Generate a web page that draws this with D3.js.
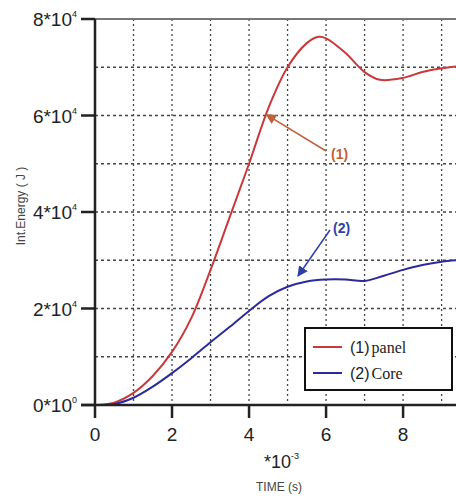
<!DOCTYPE html>
<html><head><meta charset="utf-8">
<script src="https://cdn.jsdelivr.net/npm/d3@7/dist/d3.min.js"></script>
<style>body{margin:0;background:#fff;}svg{display:block;}</style>
</head><body>
<script>
const timeX = [0,0.5,1,1.5,2,2.5,3,3.5,4,4.5,5,5.5,5.8,6,6.5,7,7.4,8,8.5,9,9.4];
const panel = [0,0.05,0.25,0.6,1.1,1.8,2.8,3.9,5.0,6.15,7.0,7.5,7.63,7.6,7.3,6.9,6.74,6.78,6.9,6.98,7.02];
const coreX = [0,0.5,1,1.5,2,2.5,3,3.5,4,4.5,5,5.5,6,6.5,7,7.5,8,8.5,9,9.4];
const core = [0,0.02,0.15,0.38,0.66,0.97,1.3,1.62,1.95,2.25,2.45,2.56,2.6,2.6,2.57,2.68,2.8,2.9,2.97,3.0];
const xMajorTicks = [0,2,4,6,8];
const xGrid = [1,2,3,4,5,6,7,8,9];
const yMajorTicks = [0,2,4,6,8];
const yGrid = [1,2,3,4,5,6,7];
const legendItems = [{num:"(1)", name:"panel", color:"#c8393b"},{num:"(2)", name:"Core", color:"#2a2a9c"}];

const W=456,H=498;
const svg=d3.select("body").append("svg").attr("width",W).attr("height",H);
const x=d3.scaleLinear().domain([0,9.4]).range([95,457]);
const y=d3.scaleLinear().domain([0,8]).range([405,19]);

// grid
const g=svg.append("g");
g.selectAll(".vg").data(xGrid).join("line").attr("x1",d=>x(d)).attr("x2",d=>x(d)).attr("y1",y(8)).attr("y2",y(0))
 .attr("stroke","#444").attr("stroke-width",1.3).attr("stroke-dasharray","2,3");
g.selectAll(".hg").data(yGrid).join("line").attr("x1",x(0)).attr("x2",W).attr("y1",d=>y(d)).attr("y2",d=>y(d))
 .attr("stroke","#444").attr("stroke-width",1.3).attr("stroke-dasharray","3,3");

// top frame
svg.append("line").attr("x1",x(0)).attr("x2",W).attr("y1",y(8)).attr("y2",y(8)).attr("stroke","#777").attr("stroke-width",2);

// curves
const line=d3.line().curve(d3.curveCatmullRom.alpha(0.5));
svg.append("path").attr("d",line(timeX.map((t,i)=>[x(t),y(panel[i])]))).attr("fill","none").attr("stroke","#c8393b").attr("stroke-width",2);
svg.append("path").attr("d",line(coreX.map((t,i)=>[x(t),y(core[i])]))).attr("fill","none").attr("stroke","#2a2a9c").attr("stroke-width",2);

// legend
const lg=svg.append("g");
lg.append("rect").attr("x",305).attr("y",328).attr("width",147).attr("height",62).attr("fill","#fff").attr("stroke","#111").attr("stroke-width",2);
legendItems.forEach((it,i)=>{
  const yy=347+i*26;
  lg.append("line").attr("x1",313).attr("x2",342).attr("y1",yy).attr("y2",yy).attr("stroke",it.color).attr("stroke-width",2);
  const t=lg.append("text").attr("x",350).attr("y",yy+6).attr("font-size",16).attr("fill","#222");
  t.append("tspan").attr("font-family","Liberation Sans, Arial").text(it.num);
  t.append("tspan").attr("font-family","Liberation Serif, Times New Roman, serif").attr("dx",2).text(it.name);
});

// axes
svg.append("line").attr("x1",x(0)).attr("x2",x(0)).attr("y1",y(8)).attr("y2",418).attr("stroke","#222").attr("stroke-width",2.5);
svg.append("line").attr("x1",81).attr("x2",W).attr("y1",y(0)).attr("y2",y(0)).attr("stroke","#222").attr("stroke-width",2.5);
// y major ticks
svg.selectAll(".yt").data(yMajorTicks).join("line").attr("x1",81).attr("x2",x(0)).attr("y1",d=>y(d)).attr("y2",d=>y(d)).attr("stroke","#222").attr("stroke-width",2.5);
// x major ticks
svg.selectAll(".xt").data(xMajorTicks.filter(d=>d>0)).join("line").attr("x1",d=>x(d)).attr("x2",d=>x(d)).attr("y1",y(0)).attr("y2",418).attr("stroke","#222").attr("stroke-width",2.5);

// y labels
const yl=svg.selectAll(".yl").data(yMajorTicks).join("text").attr("x",77).attr("y",d=>y(d)+7).attr("text-anchor","end")
 .attr("font-family","Liberation Sans, Arial").attr("font-size",19).attr("fill","#222");
yl.append("tspan").text(d=>d+"*10");
yl.append("tspan").attr("font-size",9).attr("dy",-9).text(d=>d===0?"0":"4");

// x labels
svg.selectAll(".xl").data(xMajorTicks).join("text").attr("x",d=>x(d)).attr("y",441).attr("text-anchor","middle")
 .attr("font-family","Liberation Sans, Arial").attr("font-size",19).attr("fill","#222").text(d=>d);

// x scale note
const xn=svg.append("text").attr("x",264).attr("y",468).attr("font-family","Liberation Sans, Arial").attr("font-size",18).attr("fill","#222");
xn.append("tspan").text("*10");
xn.append("tspan").attr("font-size",9).attr("dy",-9).text("-3");
svg.append("text").attr("x",279).attr("y",491).attr("text-anchor","middle").attr("font-family","Liberation Sans, Arial").attr("font-size",12).attr("fill","#444").text("TIME (s)");
svg.append("text").attr("transform","translate(25,206) rotate(-90)").attr("text-anchor","middle").attr("font-family","Liberation Sans, Arial").attr("font-size",12).attr("fill","#444").text("Int.Energy ( J )");

// annotations
const defs=svg.append("defs");
[["a1","#c0603a"],["a2","#2f3fa8"]].forEach(([id,c])=>{
  defs.append("marker").attr("id",id).attr("viewBox","0 0 10 10").attr("refX",9).attr("refY",5).attr("markerWidth",7).attr("markerHeight",7).attr("orient","auto")
   .append("path").attr("d","M0,0L10,5L0,10z").attr("fill",c);
});
svg.append("line").attr("x1",326).attr("y1",151).attr("x2",x(4.45)).attr("y2",y(6.02)).attr("stroke","#c0603a").attr("stroke-width",1.5).attr("marker-end","url(#a1)");
svg.append("text").attr("x",331).attr("y",159).attr("font-family","Liberation Sans, Arial").attr("font-weight","bold").attr("font-size",14).attr("fill","#c0603a").text("(1)");
svg.append("line").attr("x1",330).attr("y1",230).attr("x2",298).attr("y2",276).attr("stroke","#2f3fa8").attr("stroke-width",1.5).attr("marker-end","url(#a2)");
svg.append("text").attr("x",333).attr("y",233).attr("font-family","Liberation Sans, Arial").attr("font-weight","bold").attr("font-size",14).attr("fill","#2f3fa8").text("(2)");
</script>
</body></html>
